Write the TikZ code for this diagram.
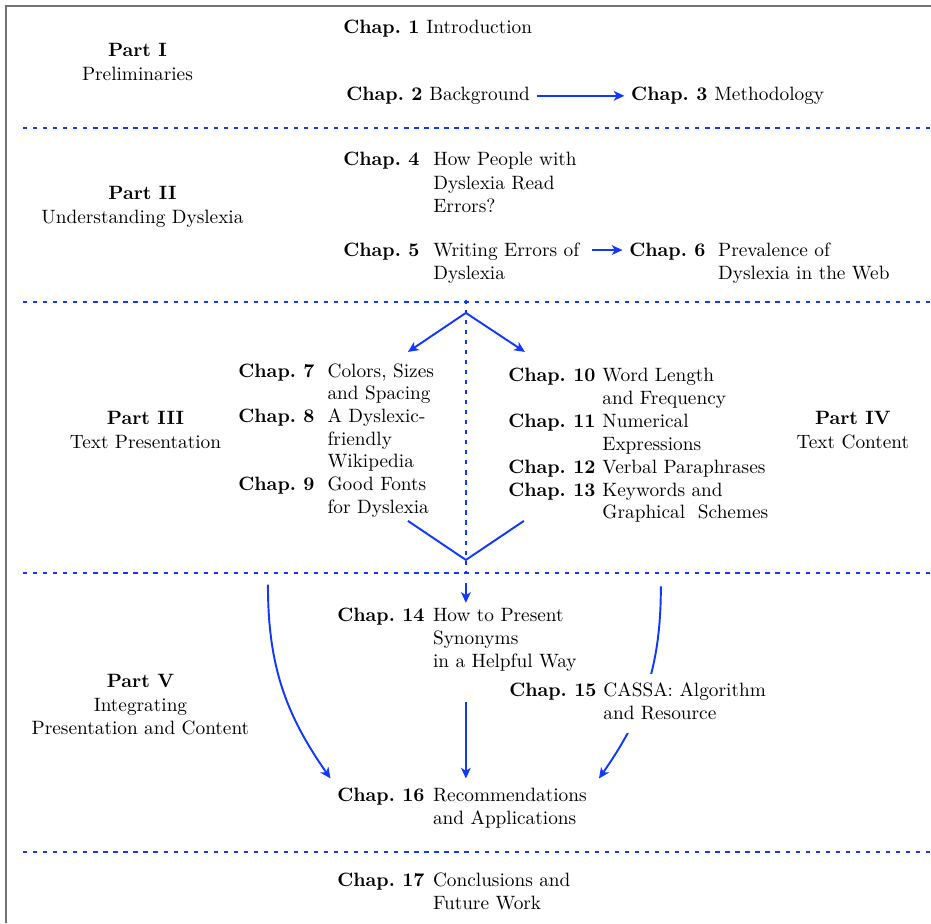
\documentclass[tikz,border=0pt]{standalone}
\usetikzlibrary{arrows.meta}

\definecolor{flowblue}{RGB}{16,56,255}

\newcommand{\chapno}[1]{\textbf{Chap.~#1}}
\newcommand{\chaptab}[2][3.6pt]{\begin{tabular}[t]{@{}l@{\hspace{#1}}l@{}}#2\end{tabular}}
\newcommand{\parttab}[2]{\begin{tabular}[t]{@{}c@{}}\textbf{Part #1}\\#2\end{tabular}}

\tikzset{
  chapnode/.style={anchor=base west},
  partnode/.style={anchor=base},
  sepline/.style={flowblue,line width=1pt,dash pattern=on 2.2pt off 3pt},
  vline/.style={flowblue,line width=1pt},
  flow/.style={flowblue,line width=1pt,-{Stealth[length=5.5pt,width=5pt,inset=1.5pt]}},
  frameline/.style={black!55,line width=1pt}
}

\begin{document}
\begin{tikzpicture}
    \useasboundingbox (0,0) rectangle (169.6mm,-168.2mm);
    \draw[frameline] (1.1mm,-168.2mm) -- (1.1mm,-1.1mm) -- (169.6mm,-1.1mm);

    % part separators
    \draw[sepline] (4.2mm,-23.3mm) -- (169.6mm,-23.3mm);
    \draw[sepline] (4.2mm,-55.0mm) -- (169.6mm,-55.0mm);
    \draw[sepline] (4.2mm,-104.3mm) -- (169.6mm,-104.3mm);
    \draw[sepline] (4.2mm,-155.2mm) -- (169.6mm,-155.2mm);
    \draw[sepline] (84.87mm,-54.6mm) -- (84.87mm,-104.3mm);

    % parts
    \node[partnode] (part1) at (25.04mm,-10.38mm) {\parttab{I}{Preliminaries}};
    \node[partnode] (part2) at (25.95mm,-36.43mm) {\parttab{II}{Understanding Dyslexia}};
    \node[partnode] (part3) at (26.5mm,-77.41mm) {\parttab{III}{Text Presentation}};
    \node[partnode] (part4) at (155.36mm,-77.41mm) {\parttab{IV}{Text Content}};
    \node[partnode] (part5) at (25.59mm,-125.31mm) {\parttab{V}{Integrating\\Presentation and Content}};

    % chapters
    \node[chapnode] (c1) at (61.3mm,-6.1mm) {\chaptab{\chapno{1} & Introduction}};
    \node[chapnode] (c2) at (61.85mm,-18.3mm) {\chaptab{\chapno{2} & Background}};
    \node[chapnode] (c3) at (113.75mm,-18.3mm) {\chaptab{\chapno{3} & Methodology}};
    \node[chapnode] (c4) at (61.3mm,-30.23mm) {\chaptab[7.2pt]{\chapno{4} & How People with\\
      & Dyslexia Read\\
      & Errors?}};
    \node[chapnode] (c5) at (61.3mm,-46.68mm) {\chaptab[7.2pt]{\chapno{5} & Writing Errors of\\
      & Dyslexia}};
    \node[chapnode] (c6) at (113.4mm,-46.68mm) {\chaptab[6.6pt]{\chapno{6} & Prevalence of\\
      & Dyslexia in the Web}};
    \node[chapnode] (c7to9) at (42.18mm,-68.7mm) {\renewcommand{\arraystretch}{0.98}\chaptab[6.8pt]{\chapno{7} & Colors, Sizes\\
      & and Spacing\\
      \chapno{8} & A Dyslexic-\\
      & friendly\\
      & Wikipedia\\
      \chapno{9} & Good Fonts\\
      & for Dyslexia}};
    \node[chapnode] (c10to13) at (91.35mm,-69.48mm) {\renewcommand{\arraystretch}{0.99}\chaptab{\chapno{10} & Word Length\\
      & and Frequency\\
      \chapno{11} & Numerical\\
      & Expressions\\
      \chapno{12} & Verbal Paraphrases\\
      \chapno{13} & Keywords and\\
      & Graphical\ \ Schemes}};
    \node[chapnode] (c14) at (60.21mm,-113.19mm) {\chaptab[4.4pt]{\chapno{14} & How to Present\\
      & Synonyms\\
      & in a Helpful Way}};
    \node[chapnode] (c16) at (60.21mm,-146.01mm) {\chaptab[4.4pt]{\chapno{16} & Recommendations\\
      & and Applications}};
    \node[chapnode] (c17) at (60.21mm,-161.49mm) {\chaptab[4.4pt]{\chapno{17} & Conclusions and\\
      & Future Work}};

    % free ends of the connectors
    \coordinate (split) at (84.87mm,-57.0mm);
    \coordinate (join) at (84.87mm,-102.0mm);
    \coordinate (to7) at (74.31mm,-64.11mm);
    \coordinate (to10) at (95.62mm,-64.11mm);
    \coordinate (from9) at (74.31mm,-94.89mm);
    \coordinate (from13) at (95.44mm,-94.89mm);
    \coordinate (joinout) at (84.87mm,-106.18mm);
    \coordinate (to14) at (84.87mm,-109.82mm);
    \coordinate (from14) at (84.87mm,-127.86mm);
    \coordinate (leftstart) at (48.81mm,-106.5mm);
    \coordinate (rightstart) at (120.39mm,-106.8mm);

    \draw[flow] (c2) -- (c3);
    \draw[flow] ([xshift=1.1mm,yshift=3.2pt]c5.base east) -- ([yshift=3.2pt]c6.base west);
    \draw[flow] (split) -- (to7);
    \draw[flow] (split) -- (to10);
    \draw[vline] (from9) -- (join) -- (from13);
    \draw[flow] (joinout) -- (to14);
    \draw[flow] (from14) -- (c16.north -| join);
    \draw[flow] (leftstart) to[out=-90,in=125] (c16.north west);
    \draw[flow] (rightstart) to[out=-90,in=55] ([xshift=1mm]c16.north east);

    % drawn last so that it hides the curve behind it
    \node[chapnode,fill=white] (c15) at (91.53mm,-126.85mm) {\chaptab{\chapno{15} & CASSA: Algorithm\\
      & and Resource}};
\end{tikzpicture}
\end{document}
